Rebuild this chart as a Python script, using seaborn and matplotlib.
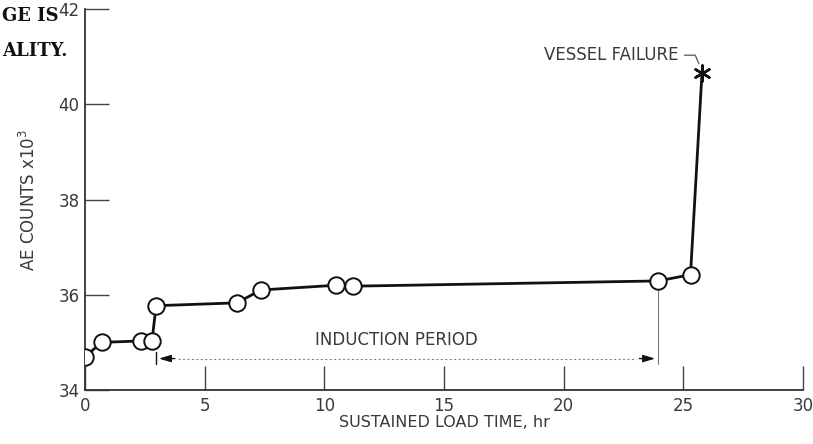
import matplotlib
matplotlib.use("Agg")
import matplotlib.pyplot as plt
import seaborn as sns
import pandas as pd
from matplotlib import font_manager

sns.set_theme(style="white")
names = {f.name for f in font_manager.fontManager.ttflist}
fam = ["Liberation Sans Narrow", "DejaVu Sans"] if "Liberation Sans Narrow" in names else ["DejaVu Sans"]
plt.rcParams["font.family"] = fam

# data
time_hr = [0.0, 0.7, 2.35, 2.8, 2.97, 6.35, 7.35, 10.5, 11.2, 23.94, 25.3]
ae_counts = [34.7, 35.0, 35.03, 35.03, 35.77, 35.83, 36.1, 36.2, 36.18, 36.29, 36.42]
failure_time = [25.78]
failure_counts = [40.66]
induction_start, induction_end = 2.97, 23.94
x_ticks = [0, 5, 10, 15, 20, 25, 30]
y_ticks = [34, 36, 38, 40, 42]

ink = "#111111"
txt = "#3a3a3a"

fig = plt.figure(figsize=(8.13, 4.44), dpi=100)
ax = fig.add_axes([85 / 813, 1 - 390 / 444, (803 - 85) / 813, (390 - 9) / 444])

line_df = pd.DataFrame({"t": time_hr + failure_time, "c": ae_counts + failure_counts})
sns.lineplot(data=line_df, x="t", y="c", sort=False, estimator=None, color=ink, lw=2.0, ax=ax, zorder=2)
pts = pd.DataFrame({"t": time_hr, "c": ae_counts})
sns.scatterplot(data=pts, x="t", y="c", s=140, facecolor="white", edgecolor=ink, linewidth=1.4, ax=ax, zorder=3)
sns.scatterplot(x=failure_time, y=failure_counts, marker=(6, 2, 0), s=130, color=ink, linewidth=1.8, ax=ax, zorder=3)

# induction period annotation
yarr = 34.66
ax.annotate("", xy=(induction_start, yarr), xytext=(induction_start + 0.9, yarr),
            arrowprops=dict(arrowstyle="-|>,head_length=0.6,head_width=0.18", color=ink, lw=1.0))
ax.annotate("", xy=(induction_end, yarr), xytext=(induction_end - 0.9, yarr),
            arrowprops=dict(arrowstyle="-|>,head_length=0.6,head_width=0.18", color=ink, lw=1.0))
ax.plot([induction_start + 0.9, induction_end - 0.9], [yarr, yarr], color="#888888", lw=0.8, ls=(0, (2, 2)))
ax.plot([induction_start, induction_start], [34.55, 34.8], color=ink, lw=1.0)
ax.plot([induction_end, induction_end], [34.55, ae_counts[9]], color="#777777", lw=0.8)
ax.text(13.0, 35.06, "INDUCTION PERIOD", ha="center", va="center", fontsize=12, color=txt)

# vessel failure label
ax.text(24.8, 41.03, "VESSEL FAILURE", ha="right", va="center", fontsize=12, color=txt)
ax.plot([25.05, 25.5, 25.65], [41.03, 41.03, 40.85], color="#555555", lw=0.9)

ax.set_xlim(0, 30)
ax.set_ylim(34, 42)
ax.set_xticks(x_ticks)
ax.set_yticks(y_ticks)
ax.tick_params(axis="both", which="major", bottom=True, left=True, direction="in",
               length=17, width=1.0, color="#444444", labelsize=12, labelcolor=txt, pad=4)
ax.tick_params(axis="x", pad=5)
for s in ["top", "right"]:
    ax.spines[s].set_visible(False)
for s in ["left", "bottom"]:
    ax.spines[s].set_color("#333333")
    ax.spines[s].set_linewidth(1.3)

ax.set_xlabel("SUSTAINED LOAD TIME, hr", fontsize=11.5, color=txt, labelpad=0)
ax.set_ylabel("AE COUNTS x10$^3$", fontsize=12, color=txt, labelpad=14)

# scanned page remnant text
fig.text(0.002, 0.965, "GE IS", fontsize=13, fontweight="bold", family="DejaVu Serif", color="#111111", va="center")
fig.text(0.002, 0.885, "ALITY.", fontsize=13, fontweight="bold", family="DejaVu Serif", color="#111111", va="center")

fig.savefig("out.png", dpi=100)
